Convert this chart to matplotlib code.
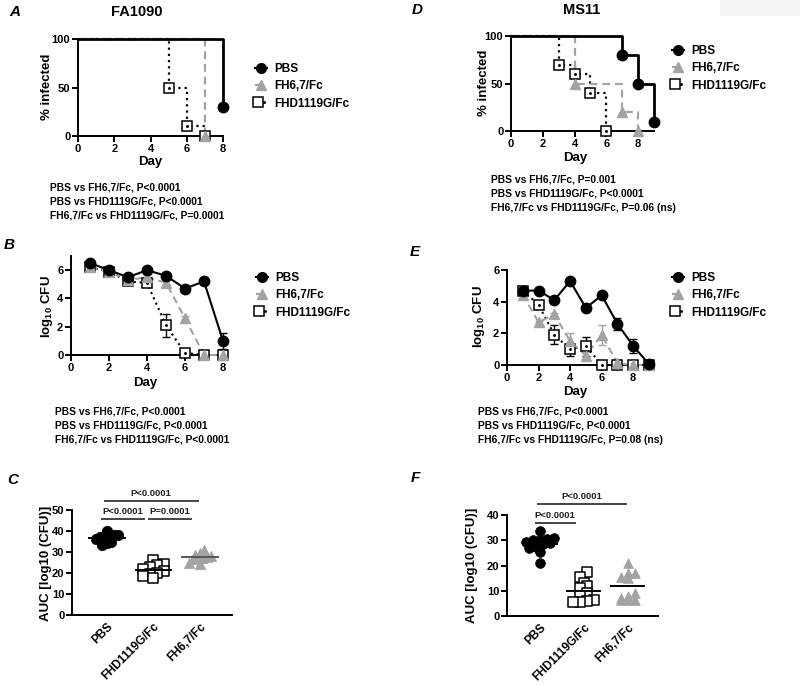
import numpy as np
import matplotlib
matplotlib.use('Agg')
import matplotlib.pyplot as plt
from matplotlib.lines import Line2D
from matplotlib.patches import Rectangle
from matplotlib.legend_handler import HandlerTuple

plt.rcParams['font.family'] = ['Liberation Sans', 'DejaVu Sans']
plt.rcParams['font.weight'] = 'bold'
plt.rcParams['mathtext.fontset'] = 'custom'
plt.rcParams['mathtext.rm'] = 'Liberation Sans:bold'
plt.rcParams['mathtext.it'] = 'Liberation Sans:bold:italic'
plt.rcParams['mathtext.bf'] = 'Liberation Sans:bold'

# ---------------- data ----------------
series = ['PBS', 'FH6,7/Fc', 'FHD1119G/Fc']

# A: Kaplan-Meier, FA1090
km_a_pbs_day = [0, 8];          km_a_pbs = [100, 30]
km_a_fh_day = [0, 7];           km_a_fh = [100, 0]
km_a_fhd_day = [0, 5, 6, 7];    km_a_fhd = [100, 50, 10, 0]

# D: Kaplan-Meier, MS11
km_d_pbs_day = [0, 7, 8, 9];    km_d_pbs = [100, 80, 50, 10]
km_d_fh_day = [0, 4, 7, 8];     km_d_fh = [100, 50, 20, 0]
km_d_fhd_day = [0, 3, 4, 5, 6]; km_d_fhd = [100, 70, 60, 40, 0]

# B: log10 CFU, FA1090
cfu_b_days = [1, 2, 3, 4, 5, 6, 7, 8]
cfu_b_pbs = [6.5, 6.0, 5.5, 6.0, 5.6, 4.7, 5.2, 1.0]
cfu_b_pbs_err = [0.1, 0.1, 0.1, 0.1, 0.1, 0.1, 0.1, 0.55]
cfu_b_fh = [6.2, 5.9, 5.3, 5.5, 5.1, 2.6, 0.0, 0.0]
cfu_b_fh_err = [0.1, 0.1, 0.1, 0.15, 0.15, 0.15, 0.0, 0.35]
cfu_b_fhd = [6.2, 5.9, 5.2, 5.1, 2.1, 0.15, 0.0, 0.0]
cfu_b_fhd_err = [0.1, 0.1, 0.1, 0.1, 0.8, 0.1, 0.0, 0.0]

# E: log10 CFU, MS11
cfu_e_days = [1, 2, 3, 4, 5, 6, 7, 8, 9]
cfu_e_pbs = [4.7, 4.7, 4.1, 5.3, 3.6, 4.4, 2.6, 1.2, 0.05]
cfu_e_pbs_err = [0.1, 0.1, 0.1, 0.1, 0.1, 0.1, 0.4, 0.45, 0.05]
cfu_e_fh = [4.45, 2.7, 3.2, 1.5, 0.6, 1.9, 0.1, 0.0, 0.0]
cfu_e_fh_err = [0.1, 0.1, 0.1, 0.5, 0.25, 0.65, 0.1, 0.0, 0.0]
cfu_e_fhd = [4.7, 3.8, 1.9, 1.0, 1.2, 0.0, 0.0, 0.0, 0.0]
cfu_e_fhd_err = [0.1, 0.15, 0.6, 0.4, 0.6, 0.0, 0.0, 0.0, 0.0]

# C / F: AUC scatter
auc_categories = ['PBS', 'FHD1119G/Fc', 'FH6,7/Fc']
auc_c_pbs = [40, 38, 38, 37.5, 37.5, 37, 36, 35, 34.5, 33.5]
auc_c_fhd = [26, 24.5, 24, 23, 22, 21, 20, 19.5, 18.5, 17.5]
auc_c_fh = [31, 29.5, 28.5, 28, 27.5, 27, 27, 26.5, 25, 24.5]
auc_f_pbs = [33.5, 31, 30.5, 30, 30, 29.5, 29, 28.5, 27.5, 27, 25.5, 21]
auc_f_fhd = [17.5, 15.5, 13, 12, 11, 9, 8, 6.5, 6, 5.5, 5.5]
auc_f_fh = [21, 17, 17, 15.5, 15, 9, 8, 7, 6.5, 6.5, 6.5]

stats_a = ['PBS vs FH6,7/Fc, P<0.0001', 'PBS vs FHD1119G/Fc, P<0.0001',
           'FH6,7/Fc vs FHD1119G/Fc, P=0.0001']
stats_b = ['PBS vs FH6,7/Fc, P<0.0001', 'PBS vs FHD1119G/Fc, P<0.0001',
           'FH6,7/Fc vs FHD1119G/Fc, P<0.0001']
stats_d = ['PBS vs FH6,7/Fc, P=0.001', 'PBS vs FHD1119G/Fc, P<0.0001',
           'FH6,7/Fc vs FHD1119G/Fc, P=0.06 (ns)']
stats_e = ['PBS vs FH6,7/Fc, P<0.0001', 'PBS vs FHD1119G/Fc, P<0.0001',
           'FH6,7/Fc vs FHD1119G/Fc, P=0.08 (ns)']

# comparisons (category index a, category index b, label, level)
comp_c = [(0, 2, 'P<0.0001', 'top'), (0, 1, 'P<0.0001', 'low'), (1, 2, 'P=0.0001', 'low')]
comp_f = [(0, 2, 'P<0.0001', 'top'), (0, 1, 'P<0.0001', 'low')]

# ---------------- styling ----------------
W, H = 800, 686
fig = plt.figure(figsize=(W / 100, H / 100), dpi=100)

def rect(l, t, r, b):
    return [l / W, 1 - b / H, (r - l) / W, (b - t) / H]

def fx(x):
    return x / W

def fy(y):
    return 1 - y / H

BLACK = 'black'
GRAY = '#a3a3a3'
DOT = (0, (1, 1.8))
DASH = (0, (3.5, 2.2))

def style_axes(ax):
    for s in ['top', 'right']:
        ax.spines[s].set_visible(False)
    for s in ['left', 'bottom']:
        ax.spines[s].set_linewidth(1.4)
    ax.tick_params(width=1.4, length=4, labelsize=8, pad=1.5)

def set_labels(ax, xlabel, xl_pos, ylabel, yl_pos):
    if xlabel:
        ax.set_xlabel(xlabel, fontsize=9.5, fontweight='bold')
        ax.xaxis.set_label_coords(fx(xl_pos[0]), fy(xl_pos[1]), transform=fig.transFigure)
    ax.set_ylabel(ylabel, fontsize=9.5, fontweight='bold')
    ax.yaxis.set_label_coords(fx(yl_pos[0]), fy(yl_pos[1]), transform=fig.transFigure)

def fhd_marker(ax, x, y, ms, z=5):
    ax.plot(x, y, ls='none', marker='s', ms=ms, mfc='white', mec=BLACK, mew=1.1, zorder=z, clip_on=False)
    ax.plot(x, y, ls='none', marker='.', ms=2.2, color=BLACK, zorder=z + 0.1, clip_on=False)

def km_panel(ax, pbs_d, pbs, fh_d, fh, fhd_d, fhd, xmax):
    ax.step(fhd_d, fhd, where='post', color=BLACK, ls=DOT, lw=1.6, zorder=2, clip_on=False)
    ax.step(fh_d, fh, where='post', color=GRAY, ls=DASH, lw=1.6, zorder=3, clip_on=False)
    ax.step(pbs_d, pbs, where='post', color=BLACK, ls='-', lw=2.0, zorder=4, clip_on=False)
    fhd_marker(ax, fhd_d[1:], fhd[1:], 7.5, z=5)
    ax.plot(fh_d[1:], fh[1:], ls='none', marker='^', ms=7, color=GRAY, zorder=6, clip_on=False)
    ax.plot(pbs_d[1:], pbs[1:], ls='none', marker='o', ms=7.5, color=BLACK, zorder=7, clip_on=False)
    ax.set_xlim(0, xmax)
    ax.set_ylim(0, 100)
    ax.set_xticks([0, 2, 4, 6, 8])
    ax.set_yticks([0, 50, 100])
    style_axes(ax)

def cfu_panel(ax, days, pbs, pbs_e, fh, fh_e, fhd, fhd_e, xmax, ymax):
    ax.errorbar(days, fhd, yerr=fhd_e, fmt='none', ecolor=BLACK, elinewidth=1, capsize=3, zorder=2, clip_on=False)
    ax.errorbar(days, fh, yerr=fh_e, fmt='none', ecolor=GRAY, elinewidth=1, capsize=3, zorder=2, clip_on=False)
    ax.errorbar(days, pbs, yerr=pbs_e, fmt='none', ecolor=BLACK, elinewidth=1, capsize=3, zorder=2, clip_on=False)
    ax.plot(days, fhd, color=BLACK, ls=DOT, lw=1.5, zorder=3, clip_on=False)
    ax.plot(days, fh, color=GRAY, ls=DASH, lw=1.5, zorder=3, clip_on=False)
    ax.plot(days, pbs, color=BLACK, ls='-', lw=1.5, zorder=4, clip_on=False)
    fhd_marker(ax, days, fhd, 7, z=5)
    ax.plot(days, fh, ls='none', marker='^', ms=7, color=GRAY, zorder=6, clip_on=False)
    ax.plot(days, pbs, ls='none', marker='o', ms=7.5, color=BLACK, zorder=7, clip_on=False)
    ax.set_xlim(0, xmax)
    ax.set_ylim(0, ymax)
    ax.set_xticks([0, 2, 4, 6, 8])
    ax.set_yticks([0, 2, 4, 6])
    style_axes(ax)

def add_legend(l, t):
    h_pbs = Line2D([], [], color=BLACK, lw=1.5, marker='o', ms=7)
    h_fh = Line2D([], [], color=GRAY, lw=1.5, ls=DASH, marker='^', ms=7)
    h_fhd_a = Line2D([], [], color=BLACK, lw=1.5, ls=DOT, marker='s', ms=7, mfc='white', mew=1.1)
    h_fhd_b = Line2D([], [], ls='none', marker='.', ms=2.2, color=BLACK)
    fig.legend([h_pbs, h_fh, (h_fhd_a, h_fhd_b)], series, loc='upper left',
               bbox_to_anchor=(fx(l), fy(t)), bbox_transform=fig.transFigure,
               frameon=False, borderpad=0, borderaxespad=0, handlelength=1.0,
               handletextpad=0.6, labelspacing=0.45,
               handler_map={tuple: HandlerTuple(ndivide=None)},
               prop=dict(weight='bold', size=8.5))

def add_stats(x, y0, lines, dy=13.8):
    for i, s in enumerate(lines):
        fig.text(fx(x), fy(y0 + i * dy), s, ha='left', va='center', fontsize=7.4, fontweight='bold')

def row_offsets(values, yppu, row_px, spacing_px, xppu):
    """Prism-style column scatter: values falling in the same row are laid
    side by side, centred on the column."""
    vals = np.asarray(values, dtype=float)
    rows = np.round(vals * yppu / row_px).astype(int)
    offs = np.zeros(len(vals))
    for r in np.unique(rows):
        idx = np.where(rows == r)[0]
        idx = idx[np.argsort(vals[idx])]
        n = len(idx)
        offs[idx] = (np.arange(n) - (n - 1) / 2.0) * spacing_px / xppu
    return offs

def auc_panel(ax, pbs, fhd, fh, xppu, yppu, spacings, ymax, ms, fh_line_color):
    groups = [(pbs, dict(marker='o', s=ms ** 2, c=BLACK, edgecolors=BLACK, linewidths=0.5), BLACK),
              (fhd, dict(marker='s', s=(ms * 0.95) ** 2, facecolors='white', edgecolors=BLACK, linewidths=1.1), BLACK),
              (fh, dict(marker='^', s=ms ** 2, c=GRAY, edgecolors=GRAY, linewidths=0.5), fh_line_color)]
    for i, (vals, kw, lc) in enumerate(groups):
        offs = row_offsets(vals, yppu, 7.0, spacings[i], xppu)
        ax.scatter(i + offs, vals, zorder=3, clip_on=False, **kw)
        m = np.mean(vals)
        ax.plot([i - 0.38, i + 0.38], [m, m], color=lc, lw=1.4, zorder=4, clip_on=False)
    ax.set_xlim(-0.75, 2.69)
    ax.set_ylim(0, ymax)
    ax.set_xticks(range(3))
    ax.set_xticklabels(auc_categories, rotation=45, ha='right', rotation_mode='anchor')
    style_axes(ax)
    ax.tick_params(axis='x', length=0, pad=4, labelsize=8.5)

def brackets(ax, comps, y_top, y_low, dt):
    for a, b, lab, lvl in comps:
        y = y_top if lvl == 'top' else y_low
        x0, x1 = a - 0.05, b - 0.05
        if lvl == 'low':
            x0, x1 = a - 0.1, b - 0.2
        ax.plot([x0, x1], [y, y], color='#444444', lw=1.4, clip_on=False, zorder=2)
        ax.text((x0 + x1) / 2, y + dt, lab, ha='center', va='center', fontsize=6.8,
                fontweight='bold', color='#222222')

# ---------------- panels ----------------
# A
axA = fig.add_axes(rect(78, 39, 223, 136))
km_panel(axA, km_a_pbs_day, km_a_pbs, km_a_fh_day, km_a_fh, km_a_fhd_day, km_a_fhd, 8)
set_labels(axA, 'Day', (150, 156), '% infected', (53, 87))
add_legend(255, 63)
add_stats(50, 188, stats_a)

# D
axD = fig.add_axes(rect(511, 36, 654, 131))
km_panel(axD, km_d_pbs_day, km_d_pbs, km_d_fh_day, km_d_fh, km_d_fhd_day, km_d_fhd, 9)
set_labels(axD, 'Day', (575, 152), '% infected', (490, 83))
add_legend(672, 45)
add_stats(491, 180, stats_d)

# B
axB = fig.add_axes(rect(71, 256, 223, 355))
cfu_panel(axB, cfu_b_days, cfu_b_pbs, cfu_b_pbs_err, cfu_b_fh, cfu_b_fh_err,
          cfu_b_fhd, cfu_b_fhd_err, 8, 7)
set_labels(axB, 'Day', (145, 377), 'log$_{10}$ CFU', (55, 307))
add_legend(256, 272)
add_stats(55, 412, stats_b)

# E
axE = fig.add_axes(rect(507, 270, 649, 365))
cfu_panel(axE, cfu_e_days, cfu_e_pbs, cfu_e_pbs_err, cfu_e_fh, cfu_e_fh_err,
          cfu_e_fhd, cfu_e_fhd_err, 9, 6)
set_labels(axE, 'Day', (575, 386), 'log$_{10}$ CFU', (487, 317))
add_legend(672, 272)
add_stats(478, 412, stats_e)

# C
axC = fig.add_axes(rect(72, 510, 232, 615))
auc_panel(axC, auc_c_pbs, auc_c_fhd, auc_c_fh, 46.5, 2.1, (4.5, 7.0, 4.5), 50, 7.5, '#555555')
axC.set_yticks([0, 10, 20, 30, 40, 50])
set_labels(axC, None, None, 'AUC [log10 (CFU)]', (52, 563))
brackets(axC, comp_c, 54.3, 45.7, 3.6)

# F
axF = fig.add_axes(rect(507, 515, 658, 616))
auc_panel(axF, auc_f_pbs, auc_f_fhd, auc_f_fh, 44, 2.525, (7.0, 7.0, 7.0), 40, 7.0, BLACK)
axF.set_yticks([0, 10, 20, 30, 40])
set_labels(axF, None, None, 'AUC [log10 (CFU)]', (478, 565))
brackets(axF, comp_f, 44.4, 36.9, 2.8)

# panel letters and titles
for lab, (x, y) in {'A': (15, 12), 'B': (9, 245), 'C': (13, 480),
                    'D': (417, 10), 'E': (415, 252), 'F': (415, 478)}.items():
    fig.text(fx(x), fy(y), lab, ha='center', va='center', fontsize=11,
             fontweight='bold', fontstyle='italic')
fig.text(fx(137), fy(12), 'FA1090', ha='center', va='center', fontsize=10.5, fontweight='bold')
fig.text(fx(582), fy(10), 'MS11', ha='center', va='center', fontsize=10.5, fontweight='bold')

fig.patches.append(Rectangle((fx(720), fy(16)), 80 / W, 16 / H, transform=fig.transFigure,
                             facecolor='#f4f4f4', edgecolor='none', zorder=0))

fig.savefig('out.png', dpi=100)
